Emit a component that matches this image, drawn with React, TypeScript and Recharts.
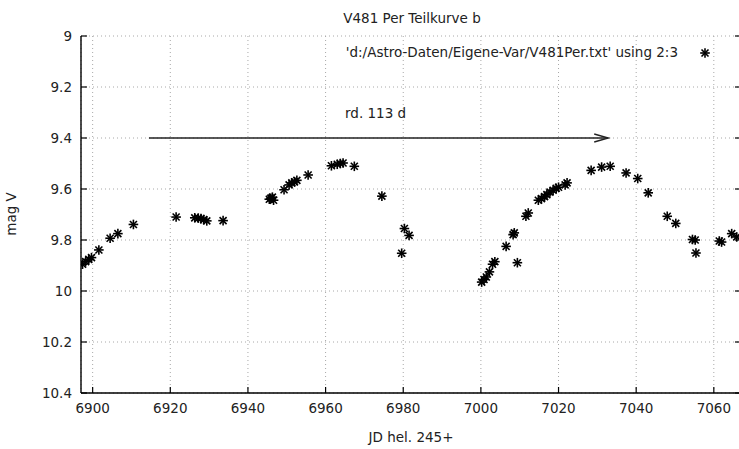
import React from "react"
import { ScatterChart, Scatter, XAxis, YAxis, CartesianGrid, ReferenceLine } from "recharts"

// JD hel. (245xxxx) and visual magnitude
const jdValues = [
  6897.4, 6898.2, 6899.0, 6899.7, 6901.6, 6904.5, 6906.5, 6910.5, 6921.5,
  6926.3, 6927.2, 6927.9, 6928.6, 6929.4, 6933.6,
  6945.5, 6945.9, 6946.3, 6946.6, 6949.3, 6950.6, 6951.3, 6952.0, 6952.6, 6955.5,
  6961.5, 6963.0, 6963.8, 6964.5, 6967.4, 6974.5, 6979.6, 6980.3, 6981.5,
  7000.2, 7000.8, 7001.4, 7002.2, 7003.0, 7003.6, 7006.5, 7008.3, 7008.6, 7009.4,
  7011.6, 7012.2, 7014.8, 7015.6, 7016.4, 7017.0, 7017.8, 7018.6, 7019.4, 7020.0,
  7021.7, 7022.2, 7028.4, 7031.1, 7033.3, 7037.4, 7040.4, 7043.1, 7048.0, 7050.2,
  7054.5, 7055.2, 7055.4, 7061.4, 7062.0, 7064.6, 7065.9,
]
const magValues = [
  9.895, 9.885, 9.876, 9.869, 9.839, 9.793, 9.775, 9.739, 9.71,
  9.713, 9.714, 9.716, 9.72, 9.725, 9.724,
  9.64, 9.636, 9.632, 9.644, 9.603, 9.584, 9.576, 9.572, 9.566, 9.545,
  9.509, 9.503, 9.5, 9.498, 9.511, 9.628, 9.852, 9.755, 9.782,
  9.965, 9.955, 9.945, 9.925, 9.895, 9.885, 9.825, 9.779, 9.772, 9.889,
  9.707, 9.694, 9.644, 9.638, 9.63, 9.622, 9.612, 9.605, 9.597, 9.593,
  9.584, 9.576, 9.527, 9.514, 9.511, 9.537, 9.559, 9.615, 9.707, 9.735,
  9.798, 9.8, 9.851, 9.804, 9.808, 9.775, 9.788,
]
const xTicks = [6900, 6920, 6940, 6960, 6980, 7000, 7020, 7040, 7060]
const yTicks = [9, 9.2, 9.4, 9.6, 9.8, 10, 10.2, 10.4]
const xDomain = [6897, 7067]
const yDomain = [9, 10.4]
const arrowFrom = 6914.5
const arrowTo = 7032.8
const arrowMag = 9.4

const points = jdValues.map((jd, i) => ({ jd, mag: magValues[i] }))

const FONT = "'DejaVu Sans', sans-serif"
const FS = 13.5

const Star = ({ cx, cy }: any) => (
  <g stroke="#000" strokeWidth={1.6}>
    <line x1={cx - 4.8} y1={cy} x2={cx + 4.8} y2={cy} />
    <line x1={cx} y1={cy - 4.8} x2={cx} y2={cy + 4.8} />
    <line x1={cx - 3.5} y1={cy - 3.5} x2={cx + 3.5} y2={cy + 3.5} />
    <line x1={cx - 3.5} y1={cy + 3.5} x2={cx + 3.5} y2={cy - 3.5} />
  </g>
)

const BottomTick = ({ x, y, payload }: any) => (
  <g>
    <line x1={x} y1={y} x2={x} y2={y - 6} stroke="#000" strokeWidth={1.2} />
    <text x={x} y={y + 20} textAnchor="middle" fontSize={FS} fontFamily={FONT} fill="#222">
      {payload.value}
    </text>
  </g>
)

const TopTick = ({ x, y }: any) => (
  <line x1={x} y1={y} x2={x} y2={y + 6} stroke="#000" strokeWidth={1.2} />
)

const LeftTick = ({ x, y, payload }: any) => (
  <g>
    <line x1={x} y1={y} x2={x + 6} y2={y} stroke="#000" strokeWidth={1.2} />
    <text x={x - 9} y={y + 5} textAnchor="end" fontSize={FS} fontFamily={FONT} fill="#222">
      {payload.value}
    </text>
  </g>
)

const RightTick = ({ x, y }: any) => (
  <line x1={x} y1={y} x2={x - 6} y2={y} stroke="#000" strokeWidth={1.2} />
)

const Arrow = ({ x1, y1, x2, y2 }: any) => (
  <g stroke="#222" strokeWidth={1.4} fill="none">
    <line x1={x1} y1={y1} x2={x2} y2={y2} />
    <polyline points={`${x2 - 14},${y2 - 4} ${x2},${y2} ${x2 - 14},${y2 + 4}`} />
  </g>
)

export default function App() {
  return (
    <div
      style={{
        position: "absolute",
        left: 0,
        top: 0,
        width: 739,
        height: 449,
        overflow: "hidden",
        background: "#fff",
      }}
    >
      <ScatterChart width={745} height={449} margin={{ top: 36, right: 0, bottom: 0, left: 0 }}>
        <CartesianGrid stroke="#a8a8a8" strokeDasharray="1 3" />
        <XAxis
          dataKey="jd"
          type="number"
          domain={xDomain}
          ticks={xTicks}
          allowDataOverflow
          height={56}
          tickSize={0}
          tickMargin={0}
          tickLine={false}
          axisLine={{ stroke: "#000", strokeWidth: 1.4 }}
          tick={<BottomTick />}
          interval={0}
        />
        <XAxis
          xAxisId="top"
          orientation="top"
          type="number"
          domain={xDomain}
          ticks={xTicks}
          allowDataOverflow
          height={0}
          tickSize={0}
          tickMargin={0}
          tickLine={false}
          axisLine={{ stroke: "#000", strokeWidth: 1.4 }}
          tick={<TopTick />}
          interval={0}
        />
        <YAxis
          dataKey="mag"
          type="number"
          domain={yDomain}
          ticks={yTicks}
          reversed
          allowDataOverflow
          width={81}
          tickSize={0}
          tickMargin={0}
          tickLine={false}
          axisLine={{ stroke: "#000", strokeWidth: 1.4 }}
          tick={<LeftTick />}
          interval={0}
        />
        <YAxis
          yAxisId="r"
          orientation="right"
          type="number"
          domain={yDomain}
          ticks={yTicks}
          reversed
          allowDataOverflow
          width={4}
          tickSize={0}
          tickMargin={0}
          tickLine={false}
          axisLine={{ stroke: "#000", strokeWidth: 1.4 }}
          tick={<RightTick />}
          interval={0}
        />
        <ReferenceLine
          segment={[
            { x: arrowFrom, y: arrowMag },
            { x: arrowTo, y: arrowMag },
          ]}
          shape={(p: any) => <Arrow {...p} />}
        />
        <Scatter data={points} shape={<Star />} isAnimationActive={false} />
      </ScatterChart>
      <svg
        width={739}
        height={449}
        style={{ position: "absolute", left: 0, top: 0, pointerEvents: "none" }}
        fontFamily={FONT}
        fontSize={FS}
        fill="#222"
      >
        <text x={412} y={23} textAnchor="middle">V481 Per Teilkurve b</text>
        <text x={678} y={57} textAnchor="end">'d:/Astro-Daten/Eigene-Var/V481Per.txt' using 2:3</text>
        <Star cx={705} cy={53} />
        <text x={345} y={118}>rd. 113 d</text>
        <text x={411} y={442} textAnchor="middle">JD hel. 245+</text>
        <text x={11} y={214} textAnchor="middle" dominantBaseline="central" transform="rotate(-90 11 214)">
          mag V
        </text>
      </svg>
    </div>
  )
}
